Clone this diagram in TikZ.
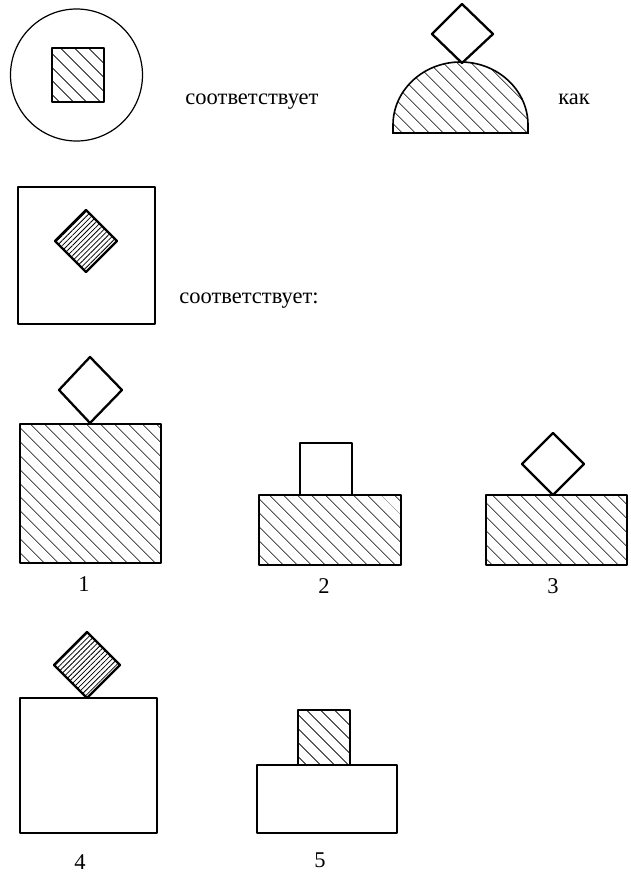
\documentclass[tikz,border=0pt]{standalone}
\usepackage{fontspec}
\setmainfont{Liberation Serif}
\usetikzlibrary{patterns.meta}
\tikzset{
  outline/.style={line width=2.3pt, line join=round},
  hatchwide/.style={pattern={Lines[angle=-45,distance=10.5pt,line width=0.9pt]}},
  hatchfine/.style={pattern={Lines[angle=45,distance=3.6pt,line width=0.8pt]}},
  lbl/.style={font=\fontsize{22.5}{26}\selectfont, inner sep=0pt},
}
\begin{document}
\begin{tikzpicture}[x=1pt,y=-1pt]
\useasboundingbox (0,0) rectangle (631,873);
% row 1
\draw[line width=1.2pt] (76.5,75) ellipse [x radius=66, y radius=66];
\draw[outline, hatchwide] (52,48) rectangle (104,102);
\node[lbl, anchor=base] (t1) at (252,104) {соответствует};
\draw[line width=1.6pt, hatchwide] (393,133) -- (393,125) arc[start angle=180, end angle=360, x radius=67.5, y radius=63] -- (528,133) -- cycle;
\draw[outline] (462,4) -- (493,34) -- (462,63) -- (432,34) -- cycle;
\node[lbl, anchor=base] (t2) at (574,104) {как};
% row 2
\draw[outline] (18,187) rectangle (155,324);
\draw[outline, hatchfine] (86,210) -- (117,241) -- (86,272) -- (55,241) -- cycle;
\node[lbl, anchor=base] (t3) at (249,303) {соответствует:};
% figure 1
\draw[outline] (90,357) -- (122,390) -- (90,423) -- (59,390) -- cycle;
\draw[outline, hatchwide] (20,424) rectangle (161,563);
\node[lbl, anchor=base] (n1) at (84,591) {1};
% figure 2
\draw[outline] (300,443) rectangle (352,495);
\draw[outline, hatchwide] (259,495) rectangle (401,565);
\node[lbl, anchor=base] (n2) at (324,593) {2};
% figure 3
\draw[outline] (553,433) -- (584,464) -- (553,495) -- (522,464) -- cycle;
\draw[outline, hatchwide] (486,495) rectangle (627,565);
\node[lbl, anchor=base] (n3) at (553,593) {3};
% figure 4
\draw[outline, hatchfine] (87,632) -- (120,665) -- (87,698) -- (54,665) -- cycle;
\draw[outline] (20,698) rectangle (157,833);
\node[lbl, anchor=base] (n4) at (80,869) {4};
% figure 5
\draw[outline, hatchwide] (298,710) rectangle (350,765);
\draw[outline] (257,765) rectangle (397,833);
\node[lbl, anchor=base] (n5) at (320,867) {5};
\end{tikzpicture}
\end{document}
